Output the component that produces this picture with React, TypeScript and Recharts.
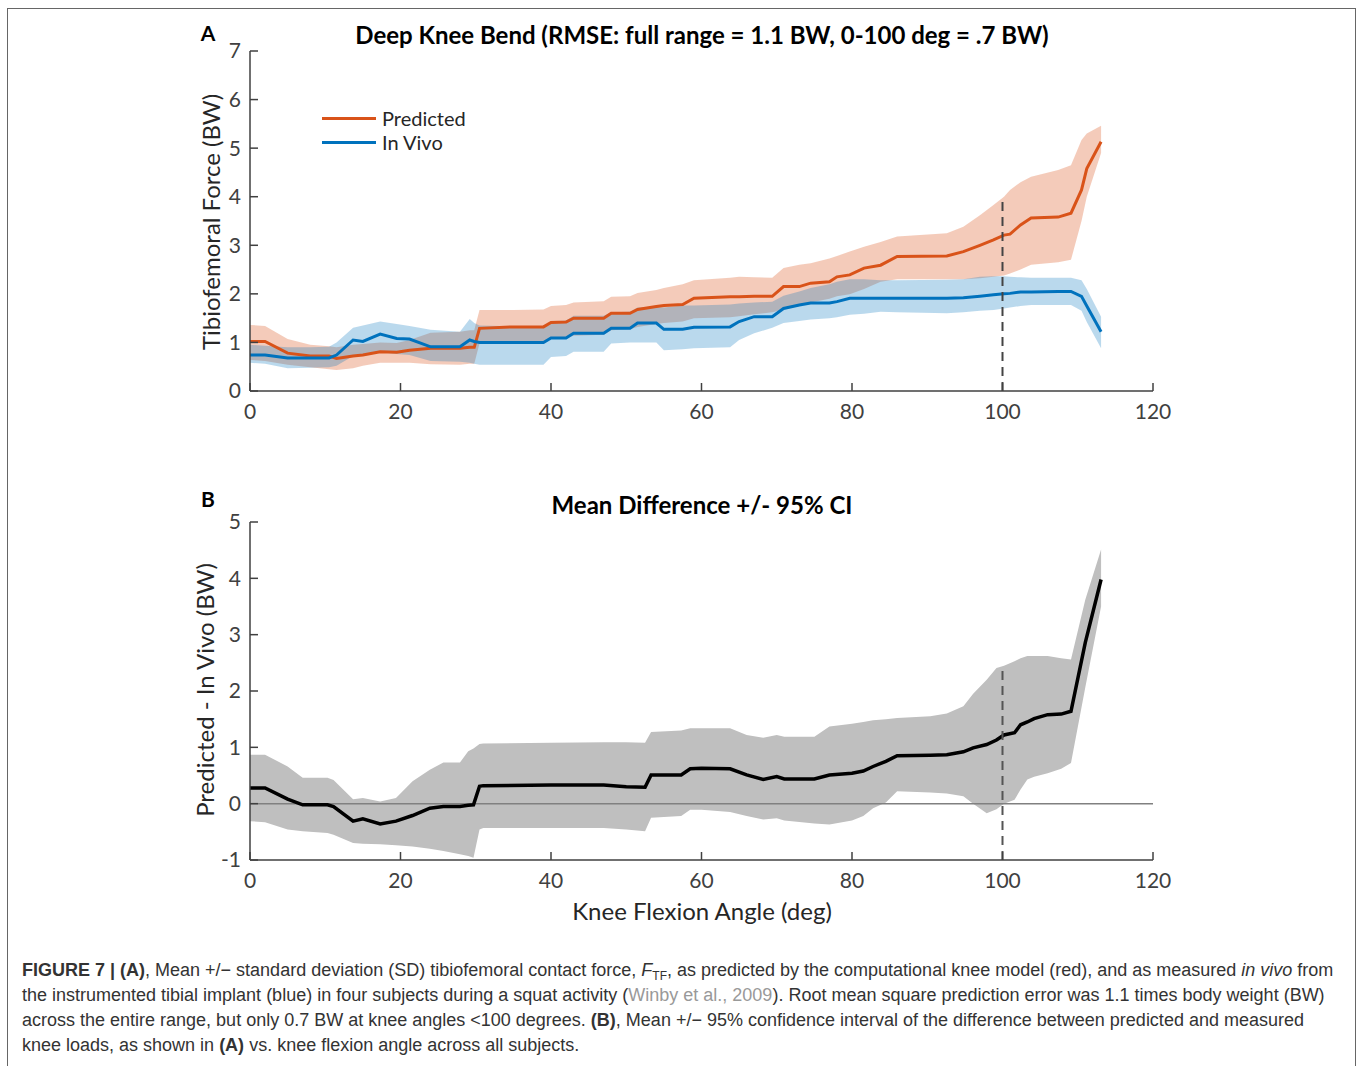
import React from "react"
import {
    ComposedChart,
    Area,
    Line,
    XAxis,
    YAxis,
    ReferenceLine,
} from "recharts"

// Panel A: knee flexion angle (deg) and tibiofemoral force (BW)
const topAngle = [
    0, 2, 5, 8, 10.5, 11.5, 13.7, 15, 17.3, 19.5, 21.2, 24, 27.9, 29.2, 29.8, 30.5, 35, 39, 40, 42, 43, 47,
    48, 50.5, 51.5, 54, 55, 57.5, 59, 63.8, 65, 67, 69.4, 70.9, 73, 74.5, 77, 78, 79.7, 81.6, 83.8, 86,
    92.6, 94.8, 97, 98.8, 100.2, 101, 102.4, 103.8, 107.4, 109.1, 110.5, 111.2, 113.1,
]
const predMean = [
    1.02, 1.02, 0.78, 0.72, 0.72, 0.67, 0.72, 0.74, 0.81, 0.8, 0.84, 0.88, 0.88, 0.9, 0.9, 1.29, 1.32, 1.32, 1.41, 1.42, 1.5, 1.5,
    1.6, 1.6, 1.68, 1.74, 1.76, 1.78, 1.91, 1.94, 1.94, 1.95, 1.95, 2.15, 2.15, 2.22, 2.25, 2.35, 2.39, 2.53, 2.59, 2.77,
    2.78, 2.87, 3.0, 3.11, 3.21, 3.23, 3.42, 3.56, 3.58, 3.66, 4.14, 4.58, 5.13,
]
const predLow = [
    0.64, 0.62, 0.54, 0.49, 0.45, 0.43, 0.47, 0.52, 0.58, 0.58, 0.58, 0.55, 0.54, 0.56, 0.56, 0.98, 1.0, 1.02, 1.08, 1.1, 1.14, 1.16,
    1.25, 1.27, 1.32, 1.38, 1.4, 1.43, 1.5, 1.52, 1.54, 1.58, 1.62, 1.68, 1.75, 1.82, 1.9, 1.95, 1.99, 2.1, 2.25, 2.3,
    2.3, 2.3, 2.32, 2.35, 2.38, 2.42, 2.5, 2.6, 2.65, 2.7, 3.5, 4.0, 4.9,
]
const predHigh = [
    1.36, 1.34, 1.07, 0.95, 0.92, 0.9, 0.95, 0.97, 1.0, 0.99, 1.05, 1.2, 1.22, 1.25, 1.25, 1.67, 1.67, 1.68, 1.75, 1.77, 1.82, 1.85,
    1.94, 1.95, 2.02, 2.08, 2.12, 2.2, 2.28, 2.33, 2.35, 2.34, 2.33, 2.53, 2.6, 2.63, 2.73, 2.78, 2.87, 2.97, 3.07, 3.18,
    3.25, 3.38, 3.62, 3.83, 4.0, 4.14, 4.3, 4.41, 4.55, 4.65, 5.17, 5.3, 5.46,
]
const vivoMean = [
    0.74, 0.74, 0.68, 0.68, 0.68, 0.74, 1.05, 1.02, 1.17, 1.08, 1.07, 0.91, 0.91, 1.05, 1.02, 1.0, 1.0, 1.0, 1.09, 1.09, 1.19, 1.19,
    1.29, 1.29, 1.4, 1.4, 1.27, 1.27, 1.31, 1.32, 1.43, 1.53, 1.53, 1.7, 1.77, 1.81, 1.81, 1.84, 1.91, 1.91, 1.91, 1.91,
    1.91, 1.92, 1.95, 1.98, 2.0, 2.01, 2.04, 2.04, 2.05, 2.05, 1.95, 1.75, 1.22,
]
const vivoLow = [
    0.58, 0.56, 0.47, 0.48, 0.49, 0.52, 0.72, 0.72, 0.8, 0.76, 0.74, 0.62, 0.6, 0.58, 0.56, 0.54, 0.54, 0.54, 0.7, 0.72, 0.81, 0.81,
    0.98, 1.0, 1.0, 1.0, 0.84, 0.86, 0.88, 0.9, 1.05, 1.19, 1.3, 1.4, 1.44, 1.47, 1.5, 1.52, 1.57, 1.59, 1.63, 1.62,
    1.6, 1.62, 1.65, 1.67, 1.7, 1.72, 1.75, 1.77, 1.77, 1.77, 1.65, 1.42, 0.88,
]
const vivoHigh = [
    0.95, 0.93, 0.9, 0.9, 0.91, 1.0, 1.3, 1.35, 1.43, 1.38, 1.34, 1.26, 1.22, 1.48, 1.4, 1.35, 1.33, 1.33, 1.43, 1.45, 1.55, 1.55,
    1.62, 1.63, 1.72, 1.73, 1.72, 1.76, 1.76, 1.78, 1.8, 1.82, 1.84, 1.96, 2.05, 2.12, 2.2, 2.25, 2.3, 2.3, 2.28, 2.28,
    2.29, 2.3, 2.35, 2.36, 2.36, 2.35, 2.34, 2.33, 2.33, 2.33, 2.28, 2.1, 1.53,
]

// Panel B: mean difference (predicted - in vivo) with 95% CI
const diffAngle = [
    0, 2, 5, 7, 10.3, 11.1, 13.7, 15, 17.3, 19.4, 21.6, 23.9, 25.7, 27.9, 29, 29.7, 30.5, 31, 40, 47, 50, 52.5,
    53.3, 57.3, 58.5, 60, 63.8, 66, 68.2, 70, 71, 75, 77, 80, 81.5, 82.8, 84.5, 86, 90.4, 92.6, 94.8, 96.1,
    97.9, 99.2, 100.2, 101.6, 102.4, 103.3, 104.2, 106, 107.8, 109.1, 111, 113.1,
]
const diffMean = [
    0.28, 0.28, 0.08, -0.02, -0.02, -0.05, -0.31, -0.27, -0.36, -0.31, -0.21, -0.08, -0.05, -0.05, -0.03, -0.02, 0.31, 0.32, 0.33, 0.33, 0.3, 0.29,
    0.51, 0.51, 0.62, 0.63, 0.62, 0.51, 0.43, 0.48, 0.44, 0.44, 0.51, 0.54, 0.58, 0.66, 0.75, 0.85, 0.86, 0.87, 0.92, 0.99,
    1.05, 1.13, 1.22, 1.26, 1.4, 1.45, 1.51, 1.58, 1.59, 1.64, 2.86, 3.98,
]
const diffLow = [
    -0.31, -0.33, -0.46, -0.49, -0.52, -0.55, -0.7, -0.71, -0.72, -0.74, -0.76, -0.8, -0.84, -0.9, -0.93, -0.96, -0.46, -0.43, -0.43, -0.43, -0.46, -0.49,
    -0.25, -0.22, -0.11, -0.11, -0.15, -0.22, -0.28, -0.26, -0.3, -0.35, -0.37, -0.3, -0.22, -0.08, 0.02, 0.22, 0.2, 0.18, 0.13, 0.0,
    -0.17, -0.1, 0.0, 0.07, 0.25, 0.43, 0.48, 0.54, 0.62, 0.72, 2.06, 3.5,
]
const diffHigh = [
    0.87, 0.87, 0.66, 0.46, 0.46, 0.42, 0.08, 0.1, 0.04, 0.1, 0.4, 0.6, 0.73, 0.73, 0.93, 0.98, 1.06, 1.07, 1.08, 1.09, 1.09, 1.08,
    1.27, 1.3, 1.34, 1.34, 1.34, 1.22, 1.17, 1.22, 1.19, 1.19, 1.37, 1.42, 1.45, 1.48, 1.5, 1.52, 1.55, 1.6, 1.73, 1.95,
    2.2, 2.41, 2.45, 2.53, 2.58, 2.62, 2.62, 2.62, 2.58, 2.56, 3.62, 4.51,
]

const xTicks = [0, 20, 40, 60, 80, 100, 120]
const topYTicks = [0, 1, 2, 3, 4, 5, 6, 7]
const diffYTicks = [-1, 0, 1, 2, 3, 4, 5]

const legendItems = [
    { label: "Predicted", color: "#D95319" },
    { label: "In Vivo", color: "#0072BD" },
]

const topData = topAngle.map((angle, i) => ({
    angle,
    pred: predMean[i],
    predBand: [predLow[i], predHigh[i]],
    vivo: vivoMean[i],
    vivoBand: [vivoLow[i], vivoHigh[i]],
}))

const diffData = diffAngle.map((angle, i) => ({
    angle,
    diff: diffMean[i],
    diffBand: [diffLow[i], diffHigh[i]],
}))

const FONT = "Lato, 'Open Sans', sans-serif"
const AXIS = "#404040"
const tickStyle = { fill: AXIS, fontSize: 21, fontFamily: FONT }

const abs = (left: number, top: number): React.CSSProperties => ({ position: "absolute", left, top })

function AxisText({ x, y, text, rotate, size = 24, bold = false }: { x: number; y: number; text: string; rotate?: boolean; size?: number; bold?: boolean }) {
    return (
        <div
            style={{
                position: "absolute",
                left: x,
                top: y,
                transform: `translate(-50%, -50%)${rotate ? " rotate(-90deg)" : ""}`,
                whiteSpace: "nowrap",
                fontFamily: FONT,
                fontSize: size,
                fontWeight: bold ? 700 : 400,
                color: bold ? "#000" : "#262626",
                lineHeight: 1,
            }}
        >
            {text}
        </div>
    )
}

export default function App() {
    return (
        <div style={{ position: "absolute", left: 0, top: 0, width: 1358, height: 1066, background: "#fff", overflow: "hidden" }}>
            <div style={{ position: "absolute", left: 7, top: 8, width: 1347, height: 1100, border: "1px solid #666" }} />

            {/* Panel A */}
            <div style={abs(0, 0)}>
                <ComposedChart width={1358} height={460} data={topData} margin={{ top: 51, right: 205, left: 0, bottom: 29 }}>
                    <XAxis
                        dataKey="angle"
                        type="number"
                        domain={[0, 120]}
                        ticks={xTicks}
                        height={40}
                        tickSize={-8}
                        tickMargin={21}
                        tick={tickStyle}
                        stroke={AXIS}
                        strokeWidth={1.5}
                        interval={0}
                    />
                    <YAxis
                        type="number"
                        domain={[0, 7]}
                        ticks={topYTicks}
                        width={250}
                        tickSize={-8}
                        tickMargin={17}
                        tick={tickStyle}
                        stroke={AXIS}
                        strokeWidth={1.5}
                        interval={0}
                    />
                    <Area dataKey="predBand" type="linear" stroke="none" fill="#D95319" fillOpacity={0.3} isAnimationActive={false} />
                    <Line dataKey="pred" type="linear" stroke="#D95319" strokeWidth={3} dot={false} isAnimationActive={false} />
                    <Area dataKey="vivoBand" type="linear" stroke="none" fill="#0072BD" fillOpacity={0.27} isAnimationActive={false} />
                    <Line dataKey="vivo" type="linear" stroke="#0072BD" strokeWidth={3} dot={false} isAnimationActive={false} />
                    <ReferenceLine segment={[{ x: 100, y: 0 }, { x: 100, y: 4 }]} stroke="#444" strokeWidth={2} strokeDasharray="9 6" />
                </ComposedChart>
            </div>

            {/* Panel B */}
            <div style={abs(0, 470)}>
                <ComposedChart width={1358} height={480} data={diffData} margin={{ top: 52, right: 205, left: 0, bottom: 50 }}>
                    <XAxis
                        dataKey="angle"
                        type="number"
                        domain={[0, 120]}
                        ticks={xTicks}
                        height={40}
                        tickSize={-8}
                        tickMargin={21}
                        tick={tickStyle}
                        stroke={AXIS}
                        strokeWidth={1.5}
                        interval={0}
                    />
                    <YAxis
                        type="number"
                        domain={[-1, 5]}
                        ticks={diffYTicks}
                        width={250}
                        tickSize={-8}
                        tickMargin={17}
                        tick={tickStyle}
                        stroke={AXIS}
                        strokeWidth={1.5}
                        interval={0}
                    />
                    <Area dataKey="diffBand" type="linear" stroke="none" fill="#BFBFBF" fillOpacity={1} isAnimationActive={false} />
                    <ReferenceLine y={0} stroke="#808080" strokeWidth={1.5} />
                    <Line dataKey="diff" type="linear" stroke="#000" strokeWidth={3.5} dot={false} isAnimationActive={false} />
                    <ReferenceLine segment={[{ x: 100, y: -1 }, { x: 100, y: 2.42 }]} stroke="#555" strokeWidth={2} strokeDasharray="9 6" />
                </ComposedChart>
            </div>

            {/* titles and labels */}
            <AxisText x={208} y={32} text="A" size={21} bold />
            <AxisText x={702} y={35} text="Deep Knee Bend (RMSE: full range = 1.1 BW, 0-100 deg = .7 BW)" size={24} bold />
            <AxisText x={211} y={222} text="Tibiofemoral Force (BW)" rotate />
            <AxisText x={208} y={498} text="B" size={21} bold />
            <AxisText x={702} y={505} text="Mean Difference +/- 95% CI" size={24} bold />
            <AxisText x={205} y={690} text="Predicted - In Vivo (BW)" rotate />
            <AxisText x={702} y={911} text="Knee Flexion Angle (deg)" />

            {/* legend */}
            {legendItems.map((item, i) => (
                <div key={item.label} style={{ ...abs(322, 106 + i * 24), display: "flex", alignItems: "center", height: 24 }}>
                    <div style={{ width: 54, height: 3, background: item.color }} />
                    <span style={{ marginLeft: 6, fontFamily: FONT, fontSize: 20, color: "#262626" }}>{item.label}</span>
                </div>
            ))}

            {/* caption */}
            <div
                style={{
                    position: "absolute",
                    left: 22,
                    top: 958,
                    fontFamily: "'Liberation Sans', Arial, sans-serif",
                    fontSize: 18,
                    lineHeight: "25px",
                    color: "#333",
                    whiteSpace: "nowrap",
                    letterSpacing: 0,
                }}
            >
                <div>
                    <b>FIGURE 7 | (A)</b>, Mean +/− standard deviation (SD) tibiofemoral contact force, <i>F</i>
                    <span style={{ fontSize: 12, position: "relative", top: 4, lineHeight: 0 }}>TF</span>, as predicted by the computational knee model (red), and as measured <i>in vivo</i> from
                </div>
                <div>
                    the instrumented tibial implant (blue) in four subjects during a squat activity (<span style={{ color: "#999" }}>Winby et al., 2009</span>). Root mean square prediction error was 1.1 times body weight (BW)
                </div>
                <div>
                    across the entire range, but only 0.7 BW at knee angles &lt;100 degrees. <b>(B)</b>, Mean +/− 95% confidence interval of the difference between predicted and measured
                </div>
                <div>
                    knee loads, as shown in <b>(A)</b> vs. knee flexion angle across all subjects.
                </div>
            </div>
        </div>
    )
}
